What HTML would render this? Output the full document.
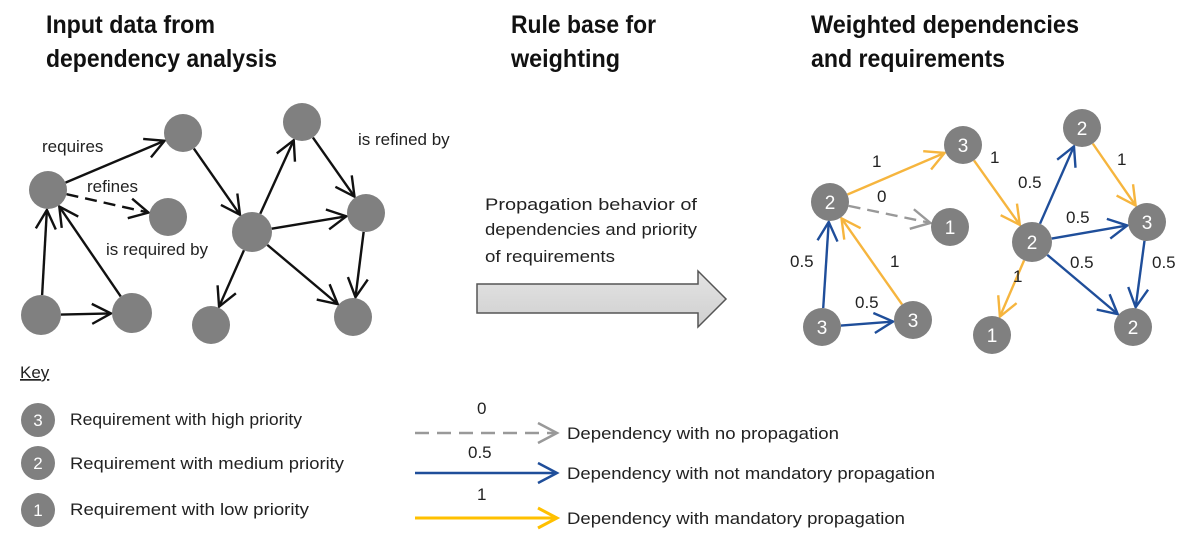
<!DOCTYPE html>
<html><head><meta charset="utf-8"><style>
html,body{margin:0;padding:0;background:#fff;}
svg{display:block;font-family:"Liberation Sans",sans-serif;}
</style></head><body>
<svg id="s" width="1194" height="547" viewBox="0 0 1194 547" xmlns="http://www.w3.org/2000/svg">
<g font-weight="bold" font-size="25" fill="#111">
<text x="46" y="33" textLength="169" lengthAdjust="spacingAndGlyphs">Input data from</text>
<text x="46" y="67" textLength="231" lengthAdjust="spacingAndGlyphs">dependency analysis</text>
<text x="511" y="33" textLength="145" lengthAdjust="spacingAndGlyphs">Rule base for</text>
<text x="511" y="67" textLength="109" lengthAdjust="spacingAndGlyphs">weighting</text>
<text x="811" y="33" textLength="268" lengthAdjust="spacingAndGlyphs">Weighted dependencies</text>
<text x="811" y="67" textLength="194" lengthAdjust="spacingAndGlyphs">and requirements</text>
</g>
<g font-size="17" fill="#222">
<text x="485" y="210" textLength="212" lengthAdjust="spacingAndGlyphs">Propagation behavior of</text>
<text x="485" y="235" textLength="212" lengthAdjust="spacingAndGlyphs">dependencies and priority</text>
<text x="485" y="262" textLength="130" lengthAdjust="spacingAndGlyphs">of requirements</text>
</g>
<defs><linearGradient id="gr" x1="0" y1="0" x2="0" y2="1"><stop offset="0" stop-color="#e4e4e4"/><stop offset="1" stop-color="#cfcfcf"/></linearGradient></defs>
<polygon points="477,284 698,284 698,271 726,299 698,327 698,313 477,313" fill="url(#gr)" stroke="#555" stroke-width="1.5"/>
<g id="edges"></g>
<g id="nodes"></g>
<g font-size="17" fill="#222">
<text x="42" y="152">requires</text>
<text x="87" y="192">refines</text>
<text x="106" y="255">is required by</text>
<text x="358" y="145">is refined by</text>
</g>
<g font-size="17" fill="#222">
<text x="872" y="167">1</text>
<text x="990" y="163">1</text>
<text x="877" y="202">0</text>
<text x="790" y="267">0.5</text>
<text x="890" y="267">1</text>
<text x="855" y="308">0.5</text>
<text x="1018" y="188">0.5</text>
<text x="1117" y="165">1</text>
<text x="1066" y="223">0.5</text>
<text x="1070" y="268">0.5</text>
<text x="1152" y="268">0.5</text>
<text x="1013" y="282">1</text>
</g>
<text x="20" y="378" font-size="17" fill="#222" text-decoration="underline">Key</text>
<g font-size="17" fill="#222">
<text x="70" y="425" textLength="232" lengthAdjust="spacingAndGlyphs">Requirement with high priority</text>
<text x="70" y="469" textLength="274" lengthAdjust="spacingAndGlyphs">Requirement with medium priority</text>
<text x="70" y="515" textLength="239" lengthAdjust="spacingAndGlyphs">Requirement with low priority</text>
<text x="477" y="414">0</text>
<text x="468" y="458">0.5</text>
<text x="477" y="500">1</text>
<text x="567" y="439" textLength="272" lengthAdjust="spacingAndGlyphs">Dependency with no propagation</text>
<text x="567" y="479" textLength="368" lengthAdjust="spacingAndGlyphs">Dependency with not mandatory propagation</text>
<text x="567" y="524" textLength="338" lengthAdjust="spacingAndGlyphs">Dependency with mandatory propagation</text>
</g>
</svg>
<script>
var NS="http://www.w3.org/2000/svg";
var E=document.getElementById("edges"),N=document.getElementById("nodes");
function el(t,a,p){var e=document.createElementNS(NS,t);for(var k in a)e.setAttribute(k,a[k]);(p||E).appendChild(e);return e;}
function arrow(x1,y1,x2,y2,col,w,dash){
  var dx=x2-x1,dy=y2-y1,L=Math.hypot(dx,dy),ux=dx/L,uy=dy/L;
  var a={x1:x1,y1:y1,x2:x2,y2:y2,stroke:col,"stroke-width":w};
  if(dash)a["stroke-dasharray"]=dash;
  el("line",a);
  var hl=19,hw=10,bx=x2-ux*hl,by=y2-uy*hl;
  el("polyline",{points:(bx-uy*hw)+","+(by+ux*hw)+" "+x2+","+y2+" "+(bx+uy*hw)+","+(by-ux*hw),fill:"none",stroke:col,"stroke-width":w,"stroke-linejoin":"miter"});
}
function edge(P,a,b,col,w,dash){
  var A=P[a],B=P[b],dx=B[0]-A[0],dy=B[1]-A[1],L=Math.hypot(dx,dy),ux=dx/L,uy=dy/L;
  arrow(A[0]+ux*A[2],A[1]+uy*A[2],B[0]-ux*(B[2]+1),B[1]-uy*(B[2]+1),col,w,dash);
}
var L={A:[48,190,19],B:[183,133,19],C:[168,217,19],D:[41,315,20],E:[132,313,20],F:[252,232,20],G:[302,122,19],H:[366,213,19],I:[211,325,19],J:[353,317,19]};
var k="#111",W=2.4;
edge(L,"A","B",k,W);edge(L,"A","C",k,W,"12,7");edge(L,"D","A",k,W);edge(L,"E","A",k,W);edge(L,"D","E",k,W);
edge(L,"B","F",k,W);edge(L,"F","G",k,W);edge(L,"G","H",k,W);edge(L,"F","H",k,W);edge(L,"F","I",k,W);edge(L,"F","J",k,W);edge(L,"H","J",k,W);
var R={a:[830,202,19,2],b:[963,145,19,3],c:[950,227,19,1],d:[822,327,19,3],e:[913,320,19,3],f:[1032,242,20,2],g:[1082,128,19,2],h:[1147,222,19,3],i:[992,335,19,1],j:[1133,327,19,2]};
var O="#F6B53E",Bl="#1F4E9A",G="#999";
edge(R,"a","b",O,W);edge(R,"a","c",G,W,"12,7");edge(R,"d","a",Bl,W);edge(R,"e","a",O,W);edge(R,"d","e",Bl,W);
edge(R,"b","f",O,W);edge(R,"f","g",Bl,W);edge(R,"g","h",O,W);edge(R,"f","h",Bl,W);edge(R,"f","i",O,W);edge(R,"f","j",Bl,W);edge(R,"h","j",Bl,W);
for(var n in L)el("circle",{cx:L[n][0],cy:L[n][1],r:L[n][2],fill:"#808080"},N);
function num(x,y,r,t,fs){el("circle",{cx:x,cy:y,r:r,fill:"#808080"},N);var tx=el("text",{x:x,y:y+fs*0.36,"text-anchor":"middle","font-size":fs,fill:"#fff"},N);tx.textContent=t;}
for(var n in R)num(R[n][0],R[n][1],R[n][2],R[n][3],19);
num(38,420,17,3,17);num(38,463,17,2,17);num(38,510,17,1,17);
arrow(415,433,557,433,"#999",2.5,"14,8");
arrow(415,473,557,473,"#1F4E9A",2.5);
arrow(415,518,557,518,"#FFC000",3);
</script>
</body></html>
